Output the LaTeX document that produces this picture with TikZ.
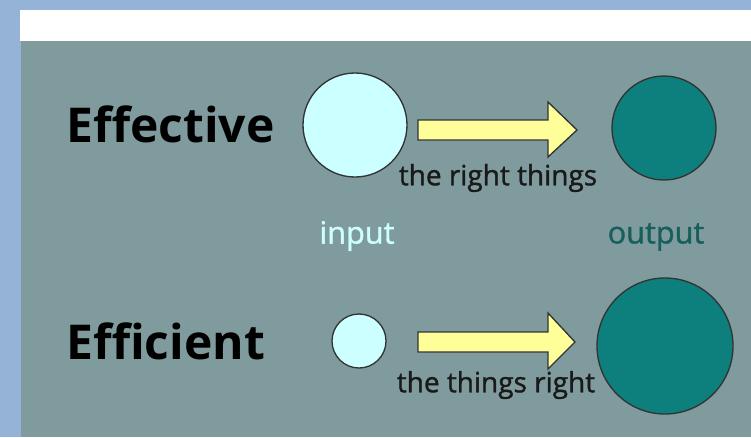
\documentclass[tikz,border=0pt]{standalone}
\usepackage{fontspec}
\setmainfont{Open Sans}
\newfontfamily\medfont{Open Sans}[FakeBold=1.2]
\usetikzlibrary{positioning}

\definecolor{framebg}{HTML}{95B3D7}
\definecolor{panelbg}{HTML}{7F9B9D}
\definecolor{infill}{HTML}{CCFFFF}
\definecolor{outfill}{HTML}{0D7F7D}
\definecolor{outtext}{HTML}{175F5E}
\definecolor{arrowfill}{HTML}{FFFF99}

\tikzset{
  incircle/.style={circle, draw=black!80, line width=1pt, fill=infill, inner sep=0pt},
  outcircle/.style={circle, draw=black!80, line width=1pt, fill=outfill, inner sep=0pt},
  title/.style={font=\bfseries\fontsize{36}{40}\selectfont, text=black, inner sep=0pt},
  small/.style={font=\medfont\fontsize{21}{24}\selectfont, text=black!90, inner sep=0pt},
  tag/.style={font=\medfont\fontsize{23}{26}\selectfont, inner sep=0pt},
  fatarrow/.style={draw=black!80, line width=1pt, fill=arrowfill, line join=miter},
}

\begin{document}
\begin{tikzpicture}[x=0.75pt, y=-0.75pt]
        \fill[framebg] (0,0) rectangle (751,437);
        \fill[white] (20,10) rectangle (751,41);
        \fill[panelbg] (21,41) rectangle (751,437);

        \node[title, anchor=west] (effective) at (66,124) {Effective};
        \node[title, anchor=west] (efficient) at (66,341) {Efficient};

        \node[incircle, minimum size=78pt] (in1) at (355,125) {};
        \node[outcircle, minimum size=78pt] (out1) at (664,128) {};
        \node[incircle, minimum size=40.5pt] (in2) at (359,341) {};
        \node[outcircle, minimum size=102pt] (out2) at (665,346) {};

        \node[tag, text=infill] (input) at (357,236) {input};
        \node[tag, text=outtext] (output) at (656,237) {output};

        \coordinate (a1) at (418,130);
        \coordinate (a2) at (418,342);
        \draw[fatarrow] (a1) ++(0,-10) -- ++(130,0) -- ++(0,-18) -- ++(29,28)
            -- ++(-29,27) -- ++(0,-17) -- ++(-130,0) -- cycle;
        \draw[fatarrow] (a2) ++(0,-10) -- ++(130,0) -- ++(0,-19) -- ++(27,29)
            -- ++(-27,27) -- ++(0,-17) -- ++(-130,0) -- cycle;

        \node[small] (lbl1) at (498,178) {the right things};
        \node[small] (lbl2) at (496,385) {the things right};
    \end{tikzpicture}
\end{document}
